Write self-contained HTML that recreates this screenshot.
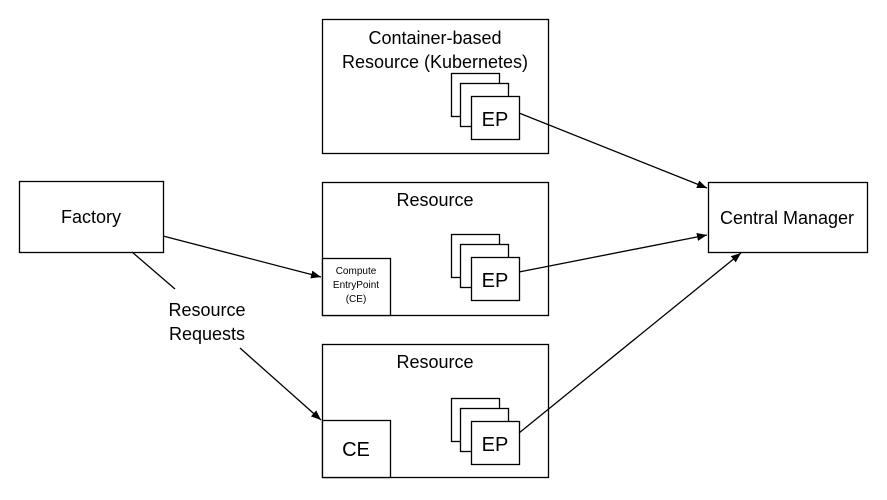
<!DOCTYPE html>
<html><head><style>body{margin:0;background:#fff}</style></head><body>
<svg width="887" height="495" xmlns="http://www.w3.org/2000/svg" font-family="Liberation Sans, sans-serif" fill="none" stroke="#000" stroke-width="1.3">
<defs><marker id="a" viewBox="0 0 10 10" refX="10" refY="5" markerWidth="10" markerHeight="10" markerUnits="userSpaceOnUse" orient="auto"><path d="M0,1 L10,5 L0,9 Z" fill="#000" stroke="none"/></marker></defs>
<rect x="19.5" y="181.5" width="144" height="71" fill="#fff"/>
<rect x="708.5" y="182.5" width="159" height="70" fill="#fff"/>
<rect x="322.5" y="19.5" width="226" height="134" fill="#fff"/>
<rect x="322.5" y="182.5" width="226" height="133" fill="#fff"/>
<rect x="322.5" y="344.5" width="226" height="133" fill="#fff"/>
<rect x="322.5" y="258.5" width="68" height="57" fill="#fff"/>
<rect x="322.5" y="420.5" width="68" height="57" fill="#fff"/>
<g fill="#fff">
<rect x="451.5" y="73.5" width="48" height="43"/><rect x="460.5" y="83.5" width="48" height="43"/><rect x="471.5" y="96.5" width="48" height="43"/>
<rect x="451.5" y="234.5" width="48" height="43"/><rect x="460.5" y="244.5" width="48" height="43"/><rect x="471.5" y="257.5" width="48" height="43"/>
<rect x="451.5" y="398.5" width="48" height="43"/><rect x="460.5" y="408.5" width="48" height="43"/><rect x="471.5" y="421.5" width="48" height="43"/>
</g>
<line x1="519" y1="113" x2="707" y2="188" marker-end="url(#a)"/>
<line x1="519" y1="272" x2="707" y2="235" marker-end="url(#a)"/>
<line x1="519" y1="433" x2="741" y2="253" marker-end="url(#a)"/>
<line x1="163" y1="236" x2="321" y2="277" marker-end="url(#a)"/>
<line x1="132" y1="252" x2="175" y2="289"/>
<line x1="240" y1="348" x2="321" y2="420" marker-end="url(#a)"/>
<g fill="#000" stroke="none" font-size="18" text-anchor="middle">
<text x="91" y="223">Factory</text>
<text x="787" y="224">Central Manager</text>
<text x="435" y="44">Container-based</text>
<text x="435" y="68">Resource (Kubernetes)</text>
<text x="435" y="206">Resource</text>
<text x="435" y="368">Resource</text>
<g font-size="20"><text x="495" y="126">EP</text>
<text x="495" y="287">EP</text>
<text x="495" y="451">EP</text>
<text x="356" y="456">CE</text></g>
<text x="207" y="316">Resource</text>
<text x="207" y="340">Requests</text>
<g font-size="10"><text x="356" y="274">Compute</text><text x="356" y="288">EntryPoint</text><text x="356" y="302">(CE)</text></g>
</g>
</svg>
</body></html>
